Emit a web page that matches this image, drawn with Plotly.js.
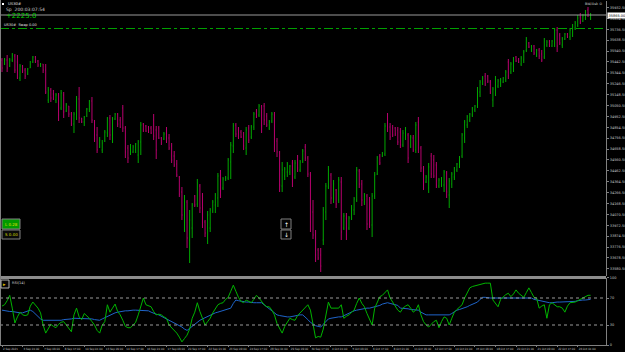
<!DOCTYPE html>
<html><head><meta charset="utf-8">
<script src="https://cdn.plot.ly/plotly-3.0.1.min.js"></script>
<style>html,body{margin:0;padding:0;background:#000;}#chart{width:625px;height:352px;}</style>
</head><body><div id="chart"></div>
<script>
const symbol = "US30#";
const dateLabels = ["2 Sep 2021","3 Sep 01:00","7 Sep 09:00","8 Sep 17:00","10 Sep 01:00","13 Sep 09:00","14 Sep 17:00","16 Sep 01:00","17 Sep 09:00","20 Sep 17:00","22 Sep 01:00","23 Sep 09:00","24 Sep 17:00","28 Sep 01:00","29 Sep 09:00","30 Sep 17:00","4 Oct 01:00","5 Oct 09:00","6 Oct 17:00","8 Oct 01:00","11 Oct 09:00","12 Oct 17:00","14 Oct 01:00","15 Oct 09:00","18 Oct 17:00","20 Oct 01:00","21 Oct 09:00","22 Oct 17:00","26 Oct 01:00"];
const barsPerLabel = 8;

const opens = [35460,35424,35460,35406,35460,35496,35442,35298,35406,35370,
35334,35388,35442,35487,35451,35406,35424,35370,35100,35190,
35154,35100,35145,35028,35145,35001,35046,34974,34884,34974,
35109,34938,34902,34956,35019,35091,34911,34785,34677,34650,
34731,34803,34938,34758,34929,34974,34920,35028,34848,34668,
34614,34632,34650,34605,34722,34884,34866,34857,34848,34920,
34830,34848,34758,34749,34803,34758,34686,34596,34524,34407,
34272,33975,34182,33840,33948,34236,34164,34326,34245,34002,
33858,33948,34101,34155,34218,34425,34308,34380,34398,34542,
34686,34875,34830,34812,34776,34668,34848,34767,34857,35001,
34965,35037,35046,34956,34848,34911,34965,34731,34623,34326,
34416,34452,34452,34533,34407,34560,34470,34551,34677,34578,
34425,34092,33894,33750,33705,33840,34092,34317,34425,34218,
34290,34200,34362,33948,34038,33948,34038,34110,34200,34461,
34344,34182,34236,34155,33975,34236,34434,34596,34596,34614,
34947,34857,34848,34848,34830,34812,34695,34758,34785,34686,
34758,34650,34902,34668,34488,34362,34308,34596,34560,34515,
34326,34335,34335,34443,34245,34344,34407,34470,34506,34596,
34758,34875,34920,34965,35010,35046,35172,35244,35316,35316,
35262,35100,35190,35226,35244,35262,35280,35442,35352,35406,
35487,35469,35424,35460,35550,35613,35550,35586,35505,35550,
35514,35487,35595,35631,35586,35613,35730,35685,35595,35649,
35694,35667,35712,35748,35775,35847,35811,35838,35910,35856];

const highs = [35478,35478,35505,35478,35523,35514,35505,35424,35415,35388,
35388,35451,35496,35496,35460,35433,35424,35424,35217,35208,
35190,35163,35163,35190,35172,35073,35046,34992,34992,35136,
35217,34938,34956,35028,35100,35127,34920,34857,34767,34740,
34830,34947,34965,34947,34983,34983,34947,35055,34866,34695,
34704,34695,34713,34740,34902,34893,34875,34866,34866,34974,
34866,34866,34767,34812,34857,34794,34713,34641,34560,34416,
34317,34245,34200,34110,34173,34245,34389,34344,34263,34020,
34101,34128,34200,34263,34443,34470,34407,34416,34578,34722,
34893,34893,34857,34830,34812,34857,34875,34875,34992,35019,
35064,35055,35073,34983,34920,34992,34992,34758,34641,34542,
34497,34542,34515,34560,34560,34605,34560,34659,34704,34596,
34452,34200,33930,33768,33768,34137,34353,34506,34443,34380,
34299,34407,34407,34083,34083,34056,34155,34227,34497,34479,
34380,34263,34254,34227,34263,34452,34596,34614,34632,34893,
34983,34893,34875,34857,34857,34848,34830,34857,34803,34785,
34785,34902,34947,34686,34506,34425,34533,34623,34605,34542,
34398,34407,34470,34461,34398,34452,34497,34533,34596,34803,
34920,34965,34983,35037,35055,35217,35280,35316,35343,35325,
35280,35217,35316,35289,35298,35307,35370,35469,35442,35487,
35496,35478,35496,35550,35667,35622,35595,35595,35559,35568,
35550,35658,35640,35640,35640,35748,35757,35703,35667,35703,
35703,35748,35784,35811,35865,35883,35874,35910,35937,35883];

const lows = [35352,35415,35352,35397,35442,35343,35289,35271,35343,35289,
35325,35388,35433,35433,35397,35397,35343,35154,35073,35082,
35100,35073,34911,35010,34938,34992,34947,34866,34803,34920,
34893,34893,34866,34947,34992,34893,34722,34623,34668,34623,
34722,34767,34740,34713,34920,34857,34848,34812,34578,34533,
34605,34623,34623,34533,34605,34812,34812,34803,34794,34740,
34569,34749,34695,34740,34713,34650,34533,34497,34407,34227,
34020,33912,33768,33633,33858,34137,34137,34083,33948,33867,
33804,33912,34083,34083,34137,34218,34290,34371,34380,34389,
34623,34767,34749,34758,34650,34605,34713,34749,34830,34938,
34947,34803,34875,34857,34830,34893,34632,34587,34272,34272,
34380,34407,34425,34317,34389,34452,34452,34533,34551,34407,
33912,33849,33642,33660,33552,33795,34020,34299,34164,34173,
34128,34173,33840,33930,33840,33930,34020,34065,34182,34308,
34146,34155,33930,33948,33867,34209,34425,34515,34587,34596,
34812,34740,34767,34776,34695,34668,34677,34740,34533,34668,
34632,34623,34623,34452,34290,34353,34263,34398,34398,34308,
34308,34317,34272,34218,34128,34308,34380,34452,34488,34578,
34713,34848,34902,34947,34992,35028,35127,35235,35226,35253,
35154,35037,35136,35208,35217,35253,35262,35289,35334,35352,
35442,35433,35406,35433,35532,35568,35532,35505,35487,35469,
35442,35469,35577,35577,35577,35577,35532,35595,35568,35640,
35658,35640,35667,35730,35757,35784,35802,35820,35847,35820];

const closes = [35388,35460,35388,35460,35505,35370,35352,35406,35361,35316,
35379,35442,35487,35442,35415,35424,35370,35172,35190,35118,
35109,35145,34965,35163,34992,35055,34974,34884,34974,35109,
34938,34902,34947,35019,35091,34920,34758,34650,34740,34713,
34812,34929,34785,34929,34974,34884,34857,34848,34632,34578,
34686,34677,34704,34722,34875,34830,34821,34812,34803,34776,
34650,34758,34713,34794,34740,34668,34560,34515,34425,34254,
34065,34200,33858,34020,34155,34155,34353,34128,33975,33903,
34065,34110,34182,34245,34416,34290,34389,34398,34560,34695,
34866,34794,34767,34767,34686,34830,34740,34857,34974,34956,
35046,34866,34920,34875,34902,34974,34722,34632,34335,34470,
34479,34524,34506,34380,34533,34488,34542,34641,34578,34434,
34002,33885,33705,33678,33606,34110,34326,34470,34218,34344,
34164,34380,33912,34056,33885,34038,34128,34209,34470,34344,
34200,34245,33984,34002,34236,34425,34578,34533,34623,34866,
34848,34767,34785,34794,34722,34695,34803,34839,34578,34767,
34650,34875,34668,34488,34335,34407,34497,34434,34416,34335,
34380,34398,34452,34272,34371,34434,34488,34524,34578,34785,
34902,34947,34974,35028,35046,35199,35262,35298,35244,35271,
35172,35199,35298,35271,35280,35298,35352,35316,35424,35469,
35451,35442,35478,35532,35649,35577,35586,35523,35550,35496,
35460,35631,35622,35595,35631,35730,35586,35613,35649,35694,
35667,35730,35766,35793,35838,35802,35856,35892,35874,35865];

const rsiMain = [58,60,66,74,55,33,42,49,45,44,
45,58,64,60,55,48,30,18,25,31,
28,26,31,34,35,30,24,20,45,55,
42,38,47,44,40,35,30,22,18,30,
35,60,49,55,61,50,45,37,28,26,
26,30,34,45,57,70,60,58,57,50,
45,46,45,42,40,30,26,22,18,12,
5,10,15,24,40,49,63,50,40,30,
35,40,48,55,60,62,63,68,71,80,
89,80,71,65,63,67,65,63,68,74,
70,64,60,57,57,52,45,32,24,18,
28,34,40,38,37,44,48,52,56,60,
52,30,11,13,12,24,45,64,55,55,
55,55,60,40,43,45,49,52,62,70,
62,57,47,38,30,55,65,72,74,78,
82,70,64,57,52,49,55,58,60,55,
49,52,60,45,35,30,27,31,35,37,
26,35,42,40,30,40,49,53,57,60,
70,78,85,87,88,89,90,92,92,92,
92,67,62,57,68,72,75,77,72,76,
82,77,74,71,78,85,78,71,70,55,
58,60,40,60,63,60,57,57,55,49,
58,63,63,64,66,68,71,72,74,74];

const rsiSignal = [52,51,51,50,50,49,49,48,48,49,
50,52,50,46,42,39,37,37,36,36,
36,36,36,37,38,38,39,39,40,40,
40,40,40,40,40,39,38,37,37,39,
41,43,45,46,48,49,50,50,51,51,
52,52,52,52,52,52,52,51,49,47,
46,45,43,41,40,38,36,34,32,30,
27,24,22,25,28,31,35,37,39,41,
43,45,47,48,49,50,51,52,54,55,
62,67,66,65,64,64,64,63,63,63,
63,63,60,57,54,51,48,45,44,43,
43,42,42,43,44,44,45,45,42,38,
34,31,29,28,27,31,35,39,40,41,
41,42,42,44,46,48,50,51,52,53,
54,54,55,55,56,56,57,59,61,62,
63,62,61,60,59,55,55,54,54,53,
53,52,52,49,47,45,45,45,45,45,
45,45,45,45,45,47,50,52,53,54,
55,57,59,61,63,64,68,71,71,70,
70,70,70,70,70,70,70,70,70,70,
70,70,70,71,71,71,70,68,67,66,
65,64,63,63,63,64,64,64,64,64,
64,64,65,65,66,67,67,67,68,68];

const currentPrice = 35865.00;
const pendingLevel = 35743.5;
const rsiLevels = [30, 70];
const profitText = "+2225.0";
const timeText = "Sp  200:03:07:54";
const swapText = "US30#  Swap 0.00";
const buyBtn = "L 0.28", sellBtn = "S 0.00";

const W = 625, H = 352, M = {l:0, r:19, t:1, b:6};
const PW = W - M.l - M.r, PH = H - M.t - M.b;
const px = x => (x - M.l) / PW;
const py = y => (H - M.b - y) / PH;

const idx = closes.map((_, i) => i);
const tickvals = dateLabels.map((_, k) => k * barsPerLabel);

const F = "DejaVu Sans, Arial, sans-serif";
const FN = "Liberation Sans Narrow, DejaVu Sans Condensed, Arial Narrow, sans-serif";
const grey = '#808080';

const traces = [
  {type:'ohlc', x: idx, open: opens, high: highs, low: lows, close: closes,
   xaxis:'x', yaxis:'y', tickwidth:0.2,
   increasing:{line:{color:'#00a800', width:1}},
   decreasing:{line:{color:'#b8006e', width:1}},
   hoverinfo:'skip', showlegend:false},
  {type:'scatter', mode:'lines', x: idx, y: rsiSignal, xaxis:'x', yaxis:'y2',
   line:{color:'#1f64c8', width:1}, hoverinfo:'skip', showlegend:false},
  {type:'scatter', mode:'lines', x: idx, y: rsiMain, xaxis:'x', yaxis:'y2',
   line:{color:'#00b400', width:1}, hoverinfo:'skip', showlegend:false}
];

function rect(x0,y0,x1,y1,fill,line){
  return {type:'rect', xref:'paper', yref:'paper', x0:px(x0), x1:px(x1), y0:py(y1), y1:py(y0),
    fillcolor:fill, line:{color:line||fill, width:line?1:0}, layer:'above'};
}
function ann(x,y,text,size,color,anchor,extra){
  return Object.assign({xref:'paper', yref:'paper', x:px(x), y:py(y), text:text, showarrow:false,
    xanchor:anchor||'left', yanchor:'middle', font:{family:F, size:size, color:color}}, extra||{});
}

const shapes = [
  {type:'line', xref:'paper', x0:0, x1:1, yref:'y', y0:currentPrice, y1:currentPrice, line:{color:'#9a9a9a', width:1}},
  {type:'line', xref:'paper', x0:0, x1:1, yref:'y', y0:pendingLevel, y1:pendingLevel, line:{color:'#00a000', width:1, dash:'dashdot'}},
  ...rsiLevels.map(v => ({type:'line', xref:'paper', x0:0, x1:1, yref:'y2', y0:v, y1:v, line:{color:'#9a9a9a', width:1, dash:'dot'}})),
  rect(0, 276, 606, 279, '#8c8c8c'),
  {type:'line', xref:'paper', yref:'paper', x0:px(0.5), x1:px(0.5), y0:py(346), y1:py(0), line:{color:grey, width:1}},
  rect(2, 3, 4, 5, '#ffffff'),
  rect(2, 219, 20, 229, '#009a00', grey),
  rect(2, 230, 20, 239, '#0a0a0a', grey),
  rect(281, 219, 291, 229, '#050505', grey),
  rect(281, 230, 291, 239, '#050505', grey),
  rect(1, 280, 9, 288, '#050505', '#b0b0b0')
];

const annotations = [
  ann(5.5, 4, symbol, 3.8, '#e0e0e0'),
  ann(4, 9, timeText, 4.5, '#d0d0d0'),
  ann(4, 16, profitText, 7, '#00d000'),
  ann(2, 25.5, swapText, 3.5, '#e0e0e0'),
  ann(11, 224, buyBtn, 4, '#e0e000', 'center'),
  ann(11, 234.5, sellBtn, 4, '#d0d000', 'center'),
  ann(286, 224, '↑', 6, '#ffffff', 'center'),
  ann(286, 234.5, '↓', 6, '#ffffff', 'center'),
  ann(5, 284, '▸', 5, '#e0c000', 'center'),
  ann(10, 283, 'RSI(14)', 3.5, '#d0d0d0'),
  ann(604, 4, 'Bid/Ask ⊙', 3.5, '#d0d0d0', 'right'),
  {xref:'paper', yref:'y', x:px(607), y:currentPrice, text: currentPrice.toFixed(2), showarrow:false,
   xanchor:'left', yanchor:'middle', bgcolor:'#ffffff', borderpad:0.5,
   font:{family:F, size:3.5, color:'#000000'}}
];

const layout = {
  width: W, height: H, margin: M,
  paper_bgcolor:'#000000', plot_bgcolor:'#000000',
  showlegend:false, dragmode:false,
  font:{family:F, color:'#c8c8c8', size:3.5},
  xaxis:{range:[-0.78, 235.0], anchor:'y2', showgrid:false, zeroline:false,
    tickmode:'array', tickvals: tickvals, ticktext: dateLabels, tickangle:0,
    ticks:'outside', ticklen:1, tickcolor:grey, ticklabelposition:'outside right',
    tickfont:{family:FN, size:2.9, color:'#c8c8c8'},
    showline:true, linecolor:grey, linewidth:1, rangeslider:{visible:false}, fixedrange:true},
  yaxis:{domain:[py(276), py(1)], range:[33516, 35991], side:'right', showgrid:false, zeroline:false,
    tick0: 35932.5, dtick: 98, tickformat:'.2f', ticks:'outside', ticklen:2, tickcolor:grey,
    tickfont:{family:F, size:3.5, color:'#c8c8c8'}, showline:true, linecolor:grey, linewidth:1, fixedrange:true},
  yaxis2:{domain:[py(345.25), py(277.75)], range:[0, 100], side:'right', anchor:'x', showgrid:false, zeroline:false,
    tickvals:[0, 30, 70, 100], ticks:'outside', ticklen:2, tickcolor:grey,
    tickfont:{family:F, size:3.5, color:'#c8c8c8'}, showline:true, linecolor:grey, linewidth:1, fixedrange:true},
  shapes: shapes,
  annotations: annotations
};

Plotly.newPlot('chart', traces, layout, {staticPlot:true, displayModeBar:false});
</script></body></html>
